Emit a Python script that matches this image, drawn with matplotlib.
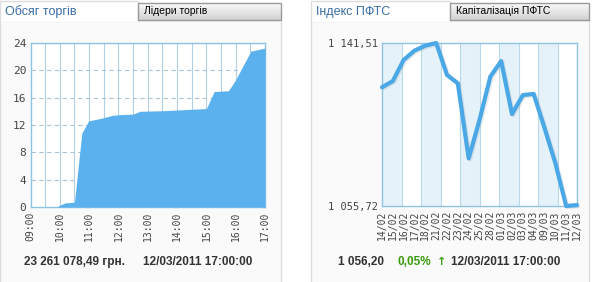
import numpy as np
import matplotlib
matplotlib.use("Agg")
import matplotlib.pyplot as plt
from matplotlib.patches import Rectangle
from matplotlib.ticker import FuncFormatter

# trading volume during the day, mln UAH
vol_times = ["09:00", "09:54", "10:01", "10:11", "10:30", "10:45", "10:59", "11:26",
             "11:47", "12:00", "12:30", "12:44", "13:35", "14:30", "15:00", "15:16",
             "15:45", "15:59", "16:16", "16:31", "17:00"]
vol_values = [0, 0, 0.3, 0.6, 0.7, 10.8, 12.6, 13.0, 13.4, 13.5, 13.6, 14.0, 14.1,
              14.3, 14.4, 16.9, 17.0, 18.5, 20.8, 22.8, 23.26]
hour_labels = ["09:00", "10:00", "11:00", "12:00", "13:00", "14:00", "15:00", "16:00", "17:00"]
vol_yticks = [0, 4, 8, 12, 16, 20, 24]

# PFTS index by day
pfts_dates = ["14/02", "15/02", "16/02", "17/02", "18/02", "21/02", "22/02", "23/02",
              "24/02", "25/02", "28/02", "01/03", "02/03", "03/03", "04/03", "09/03",
              "10/03", "11/03", "12/03"]
pfts_values = [1118.2, 1121.5, 1132.6, 1137.5, 1140.1, 1141.51, 1124.7, 1120.3,
               1080.8, 1101.0, 1123.8, 1132.0, 1104.1, 1114.1, 1114.7, 1096.8,
               1078.3, 1055.72, 1056.20]

W, H = 592, 282
blue_fill = '#5ab1ee'
blue_line = '#4aa8e6'
spine_col = '#8ec3e2'
mono = 'DejaVu Sans Mono'

fig = plt.figure(figsize=(W / 100, H / 100), dpi=100, facecolor='white')

# background layer in pixel coords (tabs, panels, footer)
bg = fig.add_axes([0, 0, 1, 1], zorder=0)
bg.set_xlim(0, W)
bg.set_ylim(H, 0)
bg.axis('off')

grad = np.linspace(0, 1, 20).reshape(-1, 1)
tab_cmap = matplotlib.colors.LinearSegmentedColormap.from_list('tab', ['#fafafa', '#d2d2d2'])


def panel(x0, x1, tab_w, title, other):
    bg.add_patch(Rectangle((x0, 20), x1 - x0, H, fc='#fafafa', ec='#dddddd', lw=1))
    bg.add_patch(Rectangle((x0, 1), tab_w, 20, fc='white', ec='#dddddd', lw=1))
    bg.add_patch(Rectangle((x0 + 0.5, 19), tab_w - 1, 3, fc='white', ec='none'))
    bg.imshow(grad, cmap=tab_cmap, aspect='auto', extent=(x0 + tab_w, x1, 20, 3), zorder=2)
    bg.add_patch(Rectangle((x0 + tab_w, 3), x1 - x0 - tab_w, 17, fc='none', ec='#9a9a9a',
                           lw=1, zorder=3))
    bg.text(x0 + 5, 12, title, color='#3a6ea5', fontsize=9, va='center',
            family='Liberation Sans')
    bg.text(x0 + tab_w + 6, 11.5, other, color='black', fontsize=7.5, va='center',
            family='Liberation Sans', zorder=4)


panel(0, 281, 138, 'Обсяг торгів', 'Лідери торгів')
panel(311, 589, 139, 'Індекс ПФТС', 'Капіталізація ПФТС')

foot = dict(fontsize=8.5, fontweight='bold', va='center', family='Liberation Sans')
bg.text(24, 262, '23 261 078,49 грн.', color='#333333', **foot)
bg.text(143, 262, '12/03/2011 17:00:00', color='#333333', **foot)
bg.text(338, 262, '1 056,20', color='#333333', **foot)
bg.text(398, 262, '0,05%', color='#3a9a10', **foot)
bg.text(437, 262, '\u2191', color='#3a9a10', fontsize=8, fontweight='bold', va='center',
        family='DejaVu Sans')
bg.text(451, 262, '12/03/2011 17:00:00', color='#333333', **foot)


def frac(x0, y0, x1, y1):
    return [x0 / W, 1 - y1 / H, (x1 - x0) / W, (y1 - y0) / H]


# ---- left chart: volume ----
ax1 = fig.add_axes(frac(30.5, 43, 265, 207), zorder=1)
t = np.array([int(s[:2]) + int(s[3:]) / 60 for s in vol_times])
ax1.fill_between(t, vol_values, 0, color=blue_fill, lw=0, zorder=3)
ax1.set_xlim(9, 17)
ax1.set_ylim(0, 24)
ax1.set_xticks(np.arange(9, 17.01, 1))
ax1.set_xticklabels(hour_labels, rotation=90, family=mono, fontsize=7, color='#444444')
ax1.set_yticks(vol_yticks)
ax1.set_yticklabels([str(v) for v in vol_yticks], family=mono, fontsize=8, color='#444444')
for h in np.arange(9.5, 17, 0.5):
    ax1.axvline(h, color='#b3d0e2', lw=0.8, zorder=1)
for v in vol_yticks[1:-1]:
    ax1.axhline(v, color='#a9c4d6', lw=0.8, ls=(0, (4, 3)), zorder=1)
ax1.tick_params(length=0, pad=3)
for s in ax1.spines.values():
    s.set_color(spine_col)
    s.set_linewidth(1)

# ---- right chart: PFTS index ----
ax2 = fig.add_axes(frac(382, 43, 577, 206), zorder=1)
n = len(pfts_dates)
x = np.arange(n)
ax2.set_xlim(0, n - 1)
lo, hi = min(pfts_values), max(pfts_values)
ax2.set_ylim(lo, hi)
edges = np.linspace(0, n - 1, 11)
for i in range(10):
    if i % 2 == 0:
        ax2.axvspan(edges[i], edges[i + 1], color='#e5f2f9', lw=0, zorder=0)
for e in edges[1:-1]:
    ax2.axvline(e, color='#b9d8ea', lw=0.8, zorder=1)
ax2.plot(x + 0.12, np.array(pfts_values) - 0.6, color='#9aa6ae', lw=3, alpha=0.25,
         solid_joinstyle='round', solid_capstyle='round', zorder=2, clip_on=False)
ax2.plot(x, pfts_values, color=blue_line, lw=3, solid_joinstyle='round',
         solid_capstyle='round', zorder=3, clip_on=False)
ax2.set_xticks(x)
ax2.set_xticklabels(pfts_dates, rotation=90, family=mono, fontsize=7, color='#444444')
ax2.set_yticks([lo, hi])
ax2.yaxis.set_major_formatter(FuncFormatter(
    lambda v, p: f"{v:,.2f}".replace(",", " ").replace(".", ",")))
for lab in ax2.get_yticklabels():
    lab.set_family(mono)
    lab.set_fontsize(7.5)
    lab.set_color('#444444')
ax2.tick_params(length=0, pad=3)
for s in ax2.spines.values():
    s.set_color(spine_col)
    s.set_linewidth(1)

fig.savefig('out.png', dpi=100, facecolor='white')
